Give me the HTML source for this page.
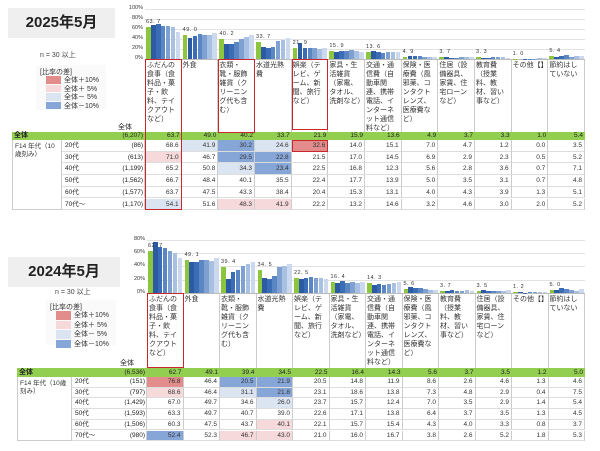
<!DOCTYPE html>
<html><head><meta charset="utf-8">
<style>
*{margin:0;padding:0;box-sizing:border-box}
body{width:600px;height:451px;background:#fff;position:relative;overflow:hidden;font-family:"Liberation Sans","Noto Sans CJK JP",sans-serif;color:#222}
.a{position:absolute;white-space:nowrap}
.hd{position:absolute;font-size:7px;line-height:9px;padding:1px 1px;white-space:normal;word-break:break-all;border-right:1px solid #ccc;color:#333}
.cell{position:absolute;font-size:6.5px;text-align:right;padding-right:2px;border-right:1px solid #ccc;border-bottom:1px solid #ddd;color:#333}
</style></head>
<body>
<div id="root"></div>
<script>
const ages = ["20代","30代","40代","50代","60代","70代〜"];
const cats2025 = ["ふだんの食事（食料品・菓子・飲料、テイクアウトなど）","外食","衣類・靴・服飾雑貨（クリーニング代も含む）","水道光熱費","娯楽（テレビ、ゲーム、新聞、旅行など）","家具・生活雑貨（家電、タオル、洗剤など）","交通・通信費（自動車関連、携帯電話、インターネット通信料など）","保険・医療費（風邪薬、コンタクトレンズ、医療費など）","住居（設備器具、家賃、住宅ローンなど）","教育費（授業料、教材、習い事など）","その他【】","節約はしていない"];
const overall2025 = [63.7,49.0,40.2,33.7,21.9,15.9,13.6,4.9,3.7,3.3,1.0,5.4];
const age2025 = [
 [68.6,41.9,30.2,24.6,32.6,14.0,15.1,7.0,4.7,1.2,0.0,3.5],
 [71.0,46.7,29.5,22.8,21.5,17.0,14.5,6.9,2.9,2.3,0.5,5.2],
 [65.2,50.8,34.3,23.4,22.5,16.8,12.3,5.6,2.8,3.6,0.7,7.1],
 [66.7,48.4,40.1,35.5,22.4,17.7,13.9,5.0,3.5,3.1,0.7,4.8],
 [63.7,47.5,43.3,38.4,20.4,15.3,13.1,4.0,4.3,3.9,1.3,5.1],
 [54.1,51.6,48.3,41.9,22.2,13.2,14.6,3.2,4.6,3.0,2.0,5.2]];
const n2025 = ["(6,207)","(86)","(613)","(1,199)","(1,562)","(1,577)","(1,170)"];
const cats2024 = ["ふだんの食事（食料品・菓子・飲料、テイクアウトなど）","外食","衣類・靴・服飾雑貨（クリーニング代も含む）","水道光熱費","娯楽（テレビ、ゲーム、新聞、旅行など）","家具・生活雑貨（家電、タオル、洗剤など）","交通・通信費（自動車関連、携帯電話、インターネット通信料など）","保険・医療費（風邪薬、コンタクトレンズ、医療費など）","教育費（授業料、教材、習い事など）","住居（設備器具、家賃、住宅ローンなど）","その他【】","節約はしていない"];
const overall2024 = [62.7,49.1,39.4,34.5,22.5,16.4,14.3,5.6,3.7,3.5,1.2,5.0];
const age2024 = [
 [76.8,46.4,20.5,21.9,20.5,14.8,11.9,8.6,2.6,4.6,1.3,4.6],
 [68.6,46.4,31.1,21.8,23.1,18.6,13.8,7.3,4.8,2.9,0.4,7.5],
 [67.0,49.7,34.6,26.0,23.7,15.7,12.4,7.0,3.5,2.9,1.4,5.4],
 [63.3,49.7,40.7,39.0,22.6,17.1,13.8,6.4,3.7,3.5,1.3,4.5],
 [60.3,47.5,43.7,40.1,22.1,15.7,15.4,4.3,4.0,3.3,0.8,3.7],
 [52.4,52.3,46.7,43.0,21.0,16.0,16.7,3.8,2.6,5.2,1.8,5.3]];
const n2024 = ["(6,536)","(151)","(797)","(1,429)","(1,593)","(1,506)","(980)"];
const ticks2025 = [0,20,40,60,80,100];
const ticks2024 = [0,20,40,60,80];

const root = document.getElementById('root');
function mk(cls, x, y, w, h, css, txt, name){
  const d = document.createElement('div');
  d.className = cls;
  d.style.left = x+'px'; d.style.top = y+'px';
  if(w!=null) d.style.width = w+'px';
  if(h!=null) d.style.height = h+'px';
  if(css) d.style.cssText += css;
  if(txt!=null) d.textContent = txt;
  
  
  root.appendChild(d);
  return d;
}
const blues = ["#2c5ba4","#3b6db6","#5a86c4","#7fa1d2","#a8c0e2","#cbd8ee"];
function shade(v,o){const d=v-o; if(d>=10) return "#e28c8c"; if(d>=5) return "#f6d9db"; if(d<=-10) return "#87a6d8"; if(d<=-5) return "#dbe4f1"; return "#fff";}

function build(c){
  const colW = (585-c.x0)/12;
  const ys = v => c.y0 - v*c.scale;
  // title
  mk('a', c.tx, c.ty, c.tw, 30, 'background:#efefef;font-weight:bold;font-size:15px;line-height:30px;text-align:center;', c.title, 'title-'+c.tag);
  mk('a', c.nx, c.ny, null, null, 'font-size:7px;color:#444', 'n = 30 以上', 'sample-note-'+c.tag);
  // legend
  mk('a', c.lx-4, c.ly-2, 70, 45, 'background:#fafafa', null, 'legend-'+c.tag);
  mk('a', c.lx, c.ly, null, null, 'font-size:7px;color:#333', '[比率の差]', 'legend-title-'+c.tag);
  const lc=["#e28c8c","#f6d9db","#dbe4f1","#87a6d8"], lt=["全体＋10%","全体＋ 5%","全体－ 5%","全体－10%"];
  for(let i=0;i<4;i++){
    mk('a', c.lx+6, c.ly+9+i*c.lstep, 15, c.lstep-1, 'background:'+lc[i], null, 'legend-swatch-'+i+'-'+c.tag);
    mk('a', c.lx+24, c.ly+8+i*c.lstep, null, null, 'font-size:7px;color:#333', lt[i], 'legend-entry-'+i+'-'+c.tag);
  }
  // axis & grid
  c.ticks.forEach(t=>{
    mk('a', c.x0-22, ys(t)-4, 20, null, 'font-size:5.5px;text-align:right;color:#333', t+'%', 'y-tick-'+t+'-'+c.tag);
    if(t>0) mk('a', c.x0, ys(t), 585-c.x0, 1, 'background:#e2e2e2', null, 'gridline-'+t+'-'+c.tag);
  });
  mk('a', c.x0, c.y0, 585-c.x0, 1, 'background:#bbb', null, 'x-axis-'+c.tag);
  // bars
  for(let j=0;j<12;j++){
    const bx = c.x0 + j*colW + 1, bw = (colW-2)/7;
    const vals = [c.overall[j]].concat(c.ages.map(r=>r[j]));
    vals.forEach((v,k)=>{
      const h = v*c.scale;
      mk('a', bx+k*bw, c.y0-h, bw-0.3, h, 'background:'+(k==0?'#8cc63f':blues[k-1]), null, 'bar-'+j+'-'+k+'-'+c.tag);
    });
    mk('a', bx, ys(c.overall[j])-8, null, null, 'font-size:5.5px;letter-spacing:0.5px;color:#333', c.overall[j].toFixed(1).replace('.', '. '), 'bar-label-'+j+'-'+c.tag);
    // header
    mk('hd', c.x0+j*colW, c.y0+1, colW, c.gy-c.y0-1, 'border-left:'+(j==0?'1px solid #ccc':'0'), c.cats[j], 'header-'+j+'-'+c.tag);
  }
  // rows
  const tl = c.tl;
  mk('a', tl, c.gy, 585-tl, c.gh, 'background:#92cf50', null, 'total-row-'+c.tag);
  mk('a', tl+2, c.gy, null, null, 'font-size:7px;line-height:'+c.gh+'px;font-weight:bold', '全体', 'total-label-'+c.tag);
  mk('a', c.x0-40, c.gy-10, 40, null, 'font-size:7px;text-align:center', '全体', 'n-header-'+c.tag);
  mk('a', c.x0-40, c.gy, 38, null, 'font-size:6.5px;line-height:'+c.gh+'px;text-align:right', c.n[0], 'n-total-'+c.tag);
  for(let j=0;j<12;j++) mk('a', c.x0+j*colW, c.gy, colW-2, null, 'font-size:6.5px;line-height:'+c.gh+'px;text-align:right', c.overall[j].toFixed(1), 'total-value-'+j+'-'+c.tag);
  const ry0 = c.gy + c.gh;
  mk('a', tl, ry0, c.ax-tl, c.rh*6, 'border:1px solid #ccc;border-top:0;font-size:6.5px;line-height:8px;padding:3px 2px;white-space:normal;color:#333', c.grp, 'group-label-'+c.tag);
  ages.forEach((a,i)=>{
    const y = ry0 + i*c.rh;
    mk('a', c.ax, y, c.x0-c.ax, c.rh, 'border-bottom:1px solid #ddd;border-right:1px solid #ccc', null, 'row-bg-'+i+'-'+c.tag);
    mk('a', c.ax+3, y, null, null, 'font-size:6.5px;line-height:'+c.rh+'px', a, 'age-label-'+i+'-'+c.tag);
    mk('a', c.x0-40, y, 38, null, 'font-size:6.5px;line-height:'+c.rh+'px;text-align:right', c.n[i+1], 'n-value-'+i+'-'+c.tag);
    for(let j=0;j<12;j++){
      const v = c.ages[i][j];
      mk('cell', c.x0+j*colW, y, colW, c.rh, 'line-height:'+c.rh+'px;background:'+shade(v,c.overall[j]), v.toFixed(1), 'cell-'+i+'-'+j+'-'+c.tag);
    }
  });
  c.boxes.forEach((b,i)=>{
    mk('a', c.x0+b[0]*colW, b[1], colW*b[2], b[3]-b[1], 'border:1.5px solid #c8282d', null, 'highlight-box-'+i+'-'+c.tag);
  });
}
build({tag:'2025',title:'2025年5月',tx:8,ty:8,tw:107,nx:40,ny:50,lx:40,ly:67,lstep:8.5,
  x0:145,y0:59,scale:0.5,ticks:ticks2025,cats:cats2025,overall:overall2025,ages:age2025,n:n2025,
  gy:132,gh:8,rh:11.7,tl:12,ax:62,grp:'F14 年代（10歳刻み）',
  boxes:[[0,59,1,210],[2,59,1,133],[4,59,1,130],[4,140,1,152]]});
build({tag:'2024',title:'2024年5月',tx:8,ty:257,tw:112,nx:55,ny:287,lx:50,ly:302,lstep:9.5,
  x0:147,y0:293,scale:0.665,ticks:ticks2024,cats:cats2024,overall:overall2024,ages:age2024,n:n2024,
  gy:368,gh:9,rh:10.7,tl:17,ax:72,grp:'F14 年代（10歳刻み）',
  boxes:[[0,293,1,368]]});
</script>
</body></html>
